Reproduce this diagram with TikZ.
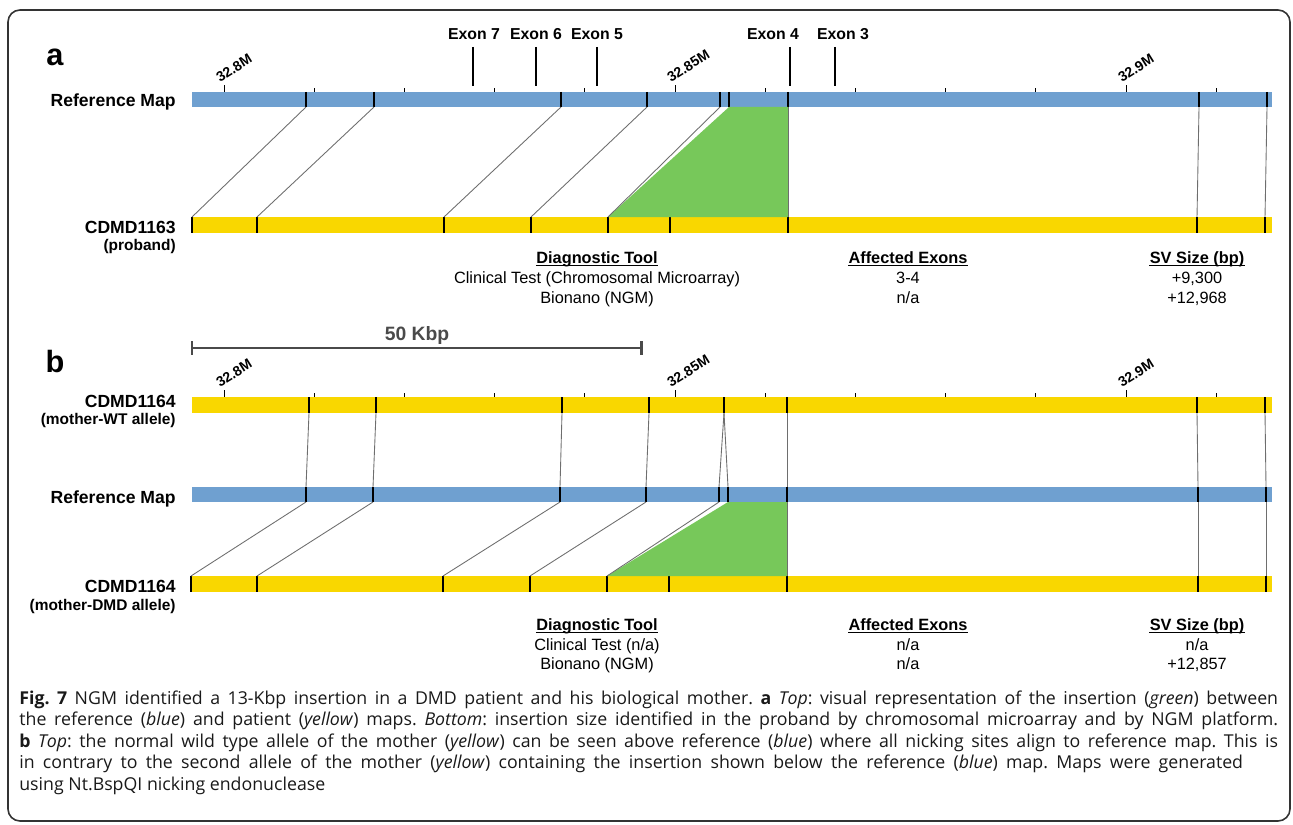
\documentclass[tikz,border=0pt]{standalone}
\usepackage{fontspec}
\setmainfont{Liberation Sans}
\newfontfamily\capfont{Open Sans}
\usetikzlibrary{positioning}

\definecolor{refblue}{HTML}{6FA0D0}
\definecolor{mapyellow}{HTML}{F9D700}
\definecolor{insgreen}{HTML}{77C85A}
\definecolor{linkgray}{HTML}{6E6E6E}
\definecolor{framegray}{HTML}{333333}
\definecolor{scalegray}{HTML}{4A4A4A}

\tikzset{
  site/.style={black, line width=0.6pt},
  link/.style={linkgray, line width=0.5pt},
  tickmark/.style={black, line width=0.5pt},
  exonmark/.style={black, line width=1.4pt},
  scalebar/.style={scalegray, line width=1.7pt},
  uline/.style={black, line width=0.6pt},
  panel/.style={font=\fontsize{17.5}{18}\selectfont\bfseries, inner sep=0pt, anchor=base},
  maplbl/.style={font=\fontsize{10}{12}\selectfont\bfseries, inner sep=0pt},
  sublbl/.style={font=\fontsize{8.8}{10}\selectfont\bfseries, inner sep=0pt},
  exonlbl/.style={font=\fontsize{9}{10}\selectfont\bfseries, inner sep=0pt, anchor=base},
  ticklbl/.style={font=\fontsize{8}{9}\selectfont\bfseries, inner sep=0pt, anchor=south west, rotate=32},
  hdr/.style={font=\fontsize{9.3}{11}\selectfont\bfseries, inner sep=0pt, anchor=base},
  cell/.style={font=\fontsize{9.3}{11}\selectfont, inner sep=0pt},
  caption/.style={font=\capfont\fontsize{10.1}{12.2}\selectfont\frenchspacing, text=black!90,
    text width=25.18cm, align=justify, inner sep=0pt, anchor=north west}
}

% bar name, colour, top, bottom, nicking sites
\newcommand{\mapbar}[5]{
  \fill[#2] (192,#3) rectangle (1272,#4);
  \foreach \sx [count=\i] in {#5} {
    \draw[site] (\sx,#3) -- (\sx,#4);
    \coordinate (#1t\i) at (\sx,#3);
    \coordinate (#1b\i) at (\sx,#4);
  }
}
\newcommand{\ulnode}[1]{\draw[uline] ([yshift=-1.2pt]#1.base west) -- ([yshift=-1.2pt]#1.base east);}

\begin{document}
\begin{tikzpicture}[x=0.02cm, y=-0.02cm]
\useasboundingbox (0,0) rectangle (1293,824);
\draw[framegray, line width=0.9pt, rounded corners=0.24cm] (8,10) rectangle (1290,821);

% a
\node[panel] (lblA) at (55,66) {a};
\foreach \ex/\lx/\tx in {7/474/473, 6/536/536, 5/597/597, 4/773/790, 3/843/835} {
  \node[exonlbl] (ex\ex) at (\lx,40) {Exon \ex};
  \draw[exonmark] (\tx,47) -- (\tx,86);
}
\foreach \k in {0,...,11} \draw[tickmark] (224+90.2*\k,92) -- ++(0,-4);
\foreach \k in {0,5,10} \draw[tickmark] (224+90.2*\k,92) -- ++(0,-7);
\node[ticklbl] (tkA1) at (220,83) {32.8M};
\node[ticklbl] (tkA2) at (671,83) {32.85M};
\node[ticklbl] (tkA3) at (1122,83) {32.9M};

\mapbar{ra}{refblue}{92}{107}{306,374,561,647,720,729,788,1199,1267}
\mapbar{pa}{mapyellow}{217}{233}{192,257,444,531,608,670,788,1197,1265}
\fill[insgreen] (rab6) -- (rab7) -- (pat7) -- (pat5) -- cycle;
\foreach \u/\v in {1/1,2/2,3/3,4/4,5/5,7/7,8/8,9/9}
  \draw[link] (rab\u) -- (pat\v);

\coordinate (ra) at (192,107);
\coordinate (pa) at (192,233);
\node[maplbl, left=0.32cm of ra, anchor=base east] (refA) {Reference Map};
\node[maplbl, left=0.32cm of pa, anchor=base east] (probA) {CDMD1163};
\node[sublbl, below=0.36cm of probA.base east, anchor=base east] (probAsub) {(proband)};

\node[hdr] (toolA) at (597,263) {Diagnostic Tool};
\node[hdr] (exA) at (908,263) {Affected Exons};
\node[hdr] (svA) at (1197,263) {SV Size (bp)};
\ulnode{toolA} \ulnode{exA} \ulnode{svA}
\node[cell, below=0.42cm of toolA.base, anchor=base] (toolA1) {Clinical Test (Chromosomal Microarray)};
\node[cell, below=0.4cm of toolA1.base, anchor=base] (toolA2) {Bionano (NGM)};
\node[cell, below=0.42cm of exA.base, anchor=base] (exA1) {3-4};
\node[cell, below=0.4cm of exA1.base, anchor=base] (exA2) {n/a};
\node[cell, below=0.42cm of svA.base, anchor=base] (svA1) {+9,300};
\node[cell, below=0.4cm of svA1.base, anchor=base] (svA2) {+12,968};

% b
\coordinate (sbL) at (192,348);
\coordinate (sbR) at (641,348);
\draw[scalebar] (sbL) -- (sbR);
\draw[scalebar] (192,341) -- (192,355);
\draw[scalebar] (641,341) -- (641,355);
\node[panel, font=\fontsize{11}{12}\selectfont\bfseries, text=scalegray] (kbp) at (417,340) {50 Kbp};

\node[panel] (lblB) at (55,372) {b};
\foreach \k in {0,...,11} \draw[tickmark] (224+90.2*\k,397) -- ++(0,-4);
\foreach \k in {0,5,10} \draw[tickmark] (224+90.2*\k,397) -- ++(0,-7);
\node[ticklbl] (tkB1) at (220,388) {32.8M};
\node[ticklbl] (tkB2) at (671,388) {32.85M};
\node[ticklbl] (tkB3) at (1122,388) {32.9M};

\mapbar{wb}{mapyellow}{397}{413}{309,376,562,649,724,787,1197,1265}
\mapbar{rb}{refblue}{487}{502}{306,373,560,646,719,728,787,1198,1266}
\mapbar{db}{mapyellow}{576}{592}{191,257,443,530,607,669,787,1198,1266}
\foreach \u/\v in {1/1,2/2,3/3,4/4,5/5,5/6,6/7,7/8,8/9}
  \draw[link] (wbb\u) -- (rbt\v);
\fill[insgreen] (rbb6) -- (rbb7) -- (dbt7) -- (dbt5) -- cycle;
\foreach \u/\v in {1/1,2/2,3/3,4/4,5/5,7/7,8/8,9/9}
  \draw[link] (rbb\u) -- (dbt\v);

\coordinate (wb) at (192,407);
\coordinate (rb) at (192,503);
\coordinate (db) at (192,592);
\node[maplbl, left=0.32cm of wb, anchor=base east] (wtB) {CDMD1164};
\node[sublbl, below=0.34cm of wtB.base east, anchor=base east] (wtBsub) {(mother-WT allele)};
\node[maplbl, left=0.32cm of rb, anchor=base east] (refB) {Reference Map};
\node[maplbl, left=0.32cm of db, anchor=base east] (dmdB) {CDMD1164};
\node[sublbl, below=0.36cm of dmdB.base east, anchor=base east] (dmdBsub) {(mother-DMD allele)};

\node[hdr] (toolB) at (597,630) {Diagnostic Tool};
\node[hdr] (exB) at (908,630) {Affected Exons};
\node[hdr] (svB) at (1197,630) {SV Size (bp)};
\ulnode{toolB} \ulnode{exB} \ulnode{svB}
\node[cell, below=0.4cm of toolB.base, anchor=base] (toolB1) {Clinical Test (n/a)};
\node[cell, below=0.38cm of toolB1.base, anchor=base] (toolB2) {Bionano (NGM)};
\node[cell, below=0.4cm of exB.base, anchor=base] (exB1) {n/a};
\node[cell, below=0.38cm of exB1.base, anchor=base] (exB2) {n/a};
\node[cell, below=0.4cm of svB.base, anchor=base] (svB1) {n/a};
\node[cell, below=0.38cm of svB1.base, anchor=base] (svB2) {+12,857};

\node[caption] (cap) at (19,690.5) {{\bfseries Fig.~7} NGM identified a 13-Kbp insertion in a DMD patient and his biological mother. {\bfseries a} \textit{Top}: visual representation of the insertion (\textit{green}) between\linebreak
the reference (\textit{blue}) and patient (\textit{yellow}) maps. \textit{Bottom}: insertion size identified in the proband by chromosomal microarray and by NGM platform.\linebreak
{\bfseries b} \textit{Top}: the normal wild type allele of the mother (\textit{yellow}) can be seen above reference (\textit{blue}) where all nicking sites align to reference map. This is\linebreak
\hbox to 24.48cm{in contrary to the second allele of the mother (\textit{yellow}) containing the insertion shown below the reference (\textit{blue}) map. Maps were generated}\\
using Nt.BspQI nicking endonuclease};
\end{tikzpicture}
\end{document}
